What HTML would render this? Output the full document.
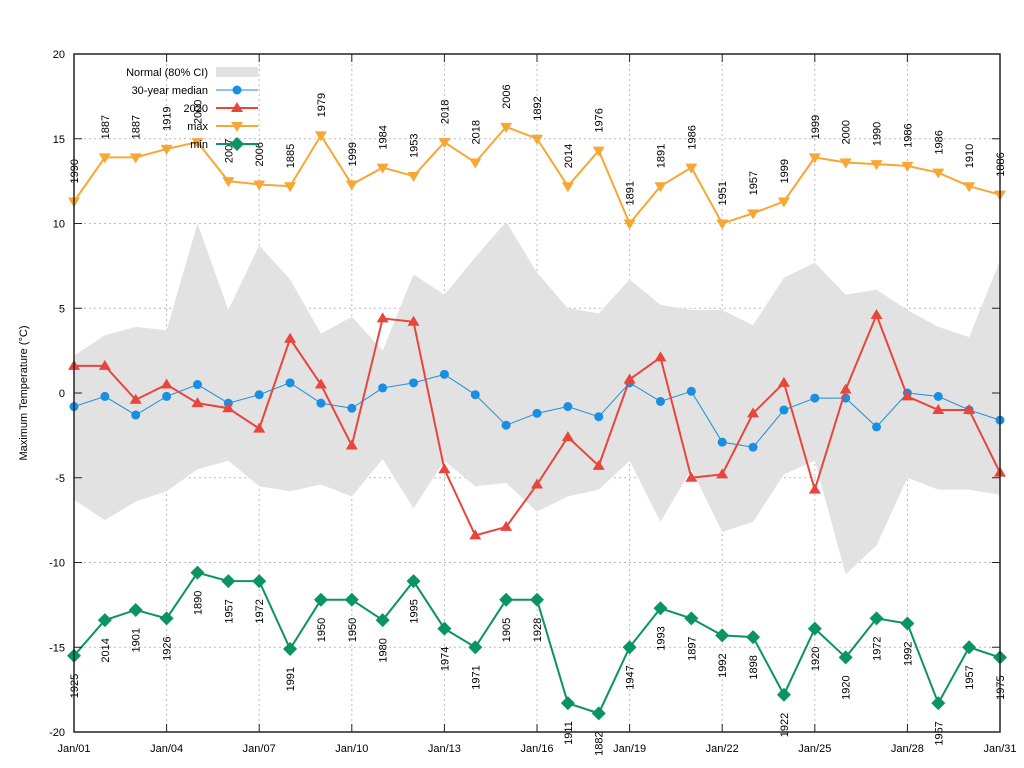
<!DOCTYPE html>
<html><head><meta charset="utf-8"><style>
html,body{margin:0;padding:0;background:#fff;}
svg{display:block;font-family:"Liberation Sans",sans-serif;}
</style></head><body>
<svg id="chart" width="1024" height="768" xmlns="http://www.w3.org/2000/svg">
<rect width="1024" height="768" fill="#fff"/>
<g id="grid"></g>
<g id="band"></g>
<g id="series"></g>
<g id="axes"></g>
<g id="legend"></g>
<text transform="translate(27,393) rotate(-90)" text-anchor="middle" font-size="11">Maximum Temperature (°C)</text>
</svg>
<script>
const days = Array.from({length:31},(_,i)=>i+1);
const maxVals = [11.3,13.9,13.9,14.4,14.8,12.5,12.3,12.2,15.2,12.3,13.3,12.8,14.8,13.6,15.7,15.0,12.2,14.3,10.0,12.2,13.3,10.0,10.6,11.3,13.9,13.6,13.5,13.4,13.0,12.2,11.7];
const maxYears = ["1990","1887","1887","1919","2000","2007","2006","1885","1979","1999","1984","1953","2018","2018","2006","1892","2014","1976","1891","1891","1986","1951","1957","1999","1999","2000","1990","1986","1986","1910","1886"];
const minVals = [-15.5,-13.4,-12.8,-13.3,-10.6,-11.1,-11.1,-15.1,-12.2,-12.2,-13.4,-11.1,-13.9,-15.0,-12.2,-12.2,-18.3,-18.9,-15.0,-12.7,-13.3,-14.3,-14.4,-17.8,-13.9,-15.6,-13.3,-13.6,-18.3,-15.0,-15.6];
const minYears = ["1925","2014","1901","1926","1890","1957","1972","1991","1950","1950","1980","1995","1974","1971","1905","1928","1911","1882","1947","1993","1897","1992","1898","1922","1920","1920","1972","1992","1957","1957","1975"];
const y2020 = [1.6,1.6,-0.4,0.5,-0.6,-0.9,-2.1,3.2,0.5,-3.1,4.4,4.2,-4.5,-8.4,-7.9,-5.4,-2.6,-4.3,0.8,2.1,-5.0,-4.8,-1.2,0.6,-5.7,0.2,4.6,-0.2,-1.0,-1.0,-4.7];
const medianVals = [-0.8,-0.2,-1.3,-0.2,0.5,-0.6,-0.1,0.6,-0.6,-0.9,0.3,0.6,1.1,-0.1,-1.9,-1.2,-0.8,-1.4,0.6,-0.5,0.1,-2.9,-3.2,-1.0,-0.3,-0.3,-2.0,0.0,-0.2,-1.0,-1.6];
const bandUpper = [2.2,3.4,3.9,3.7,10.0,4.9,8.7,6.7,3.5,4.5,2.5,7.0,5.8,8.0,10.1,7.1,5.0,4.7,6.7,5.2,4.9,4.9,4.0,6.8,7.7,5.8,6.1,4.9,3.9,3.3,7.8];
const bandLower = [-6.3,-7.5,-6.4,-5.8,-4.5,-4.0,-5.5,-5.8,-5.4,-6.1,-3.9,-6.8,-4.0,-5.5,-5.3,-7.0,-6.1,-5.7,-4.0,-7.6,-4.5,-8.2,-7.6,-4.8,-4.0,-10.7,-9.0,-5.0,-5.7,-5.7,-6.0];
const yTicks = [-20,-15,-10,-5,0,5,10,15,20];
const xTickDays = [1,4,7,10,13,16,19,22,25,28,31];

const NS="http://www.w3.org/2000/svg";
const L=74,R=1000,T=54,B=732;
const xS=d=>L+(d-1)*(R-L)/30;
const yS=v=>B-(v+20)*(B-T)/40;
function mk(tag,attrs,parent){const e=document.createElementNS(NS,tag);for(const k in attrs)e.setAttribute(k,attrs[k]);parent.appendChild(e);return e;}
const grid=document.getElementById('grid'),band=document.getElementById('band'),series=document.getElementById('series'),axes=document.getElementById('axes'),legend=document.getElementById('legend');

yTicks.forEach(v=>{
  if(v>-20&&v<20){const g=mk('line',{x1:L,x2:R,y1:yS(v),y2:yS(v),stroke:'#bbb','stroke-dasharray':'2,3','stroke-width':1},grid);
  
  }
  const t=mk('text',{x:L-9,y:yS(v)+4,'text-anchor':'end','font-size':11},axes);t.textContent=v;
  
  
  mk('line',{x1:L,x2:L+8,y1:yS(v),y2:yS(v),stroke:'#222'},axes);
  mk('line',{x1:R,x2:R-8,y1:yS(v),y2:yS(v),stroke:'#222'},axes);
});
xTickDays.forEach(d=>{
  if(d>1&&d<31){const g=mk('line',{x1:xS(d),x2:xS(d),y1:T,y2:B,stroke:'#bbb','stroke-dasharray':'2,3'},grid);
  
  }
  const t=mk('text',{x:xS(d),y:B+20,'text-anchor':'middle','font-size':11},axes);t.textContent='Jan/'+String(d).padStart(2,'0');
  
  
  mk('line',{x1:xS(d),x2:xS(d),y1:B,y2:B-8,stroke:'#222'},axes);
  mk('line',{x1:xS(d),x2:xS(d),y1:T,y2:T+8,stroke:'#222'},axes);
});
const fr=mk('rect',{x:L,y:T,width:R-L,height:B-T,fill:'none',stroke:'#222','stroke-width':1.5},axes);



// band
let pts=days.map((d,i)=>xS(d)+','+yS(bandUpper[i])).concat(days.slice().reverse().map(d=>xS(d)+','+yS(bandLower[d-1])));
const bp=mk('polygon',{points:pts.join(' '),fill:'#e2e2e2'},band);



function marker(kind,x,y,c,p){
  if(kind==='circle')return mk('circle',{cx:x,cy:y,r:4.5,fill:c},p);
  if(kind==='up')return mk('polygon',{points:`${x},${y-6} ${x-6},${y+4} ${x+6},${y+4}`,fill:c},p);
  if(kind==='down')return mk('polygon',{points:`${x},${y+6} ${x-6},${y-4} ${x+6},${y-4}`,fill:c},p);
  return mk('polygon',{points:`${x},${y-7} ${x+7},${y} ${x},${y+7} ${x-7},${y}`,fill:c},p);
}
function line(vals,c,w,kind,name){
  const g=mk('g',{},series);
  
  
  const pl=mk('polyline',{points:days.map((d,i)=>xS(d)+','+yS(vals[i])).join(' '),fill:'none',stroke:c,'stroke-width':w},g);
  
  
  days.forEach((d,i)=>{const m=marker(kind,xS(d),yS(vals[i]),c,g);
    
    });
}
line(medianVals,'#1a8ee0',1,'circle','median');
line(y2020,'#e8453c',2,'up','y2020');
line(maxVals,'#f8a634',2,'down','max');
line(minVals,'#0a9460',2,'diamond','min');

days.forEach((d,i)=>{
  const x=xS(d)+4;
  let y=yS(maxVals[i])-18;
  const t=mk('text',{transform:`translate(${x},${y}) rotate(-90)`,'font-size':11},series);t.textContent=maxYears[i];
  
  
  y=yS(minVals[i])+18;
  const t2=mk('text',{transform:`translate(${x},${y}) rotate(-90)`,'font-size':11,'text-anchor':'end'},series);t2.textContent=minYears[i];
  
  
});

// legend
const legItems=[['Normal (80% CI)','band'],['30-year median','#1a8ee0','circle',1],['2020','#e8453c','up',2],['max','#f8a634','down',2],['min','#0a9460','diamond',2]];
legItems.forEach((it,i)=>{
  const y=72+i*18;
  const g=mk('g',{},legend);
  
  
  const t=mk('text',{x:208,y:y+4,'text-anchor':'end','font-size':11},g);t.textContent=it[0];
  if(it[1]==='band')mk('rect',{x:216,y:y-5,width:42,height:10,fill:'#e2e2e2'},g);
  else{mk('line',{x1:216,x2:258,y1:y,y2:y,stroke:it[1],'stroke-width':it[3]},g);marker(it[2],237,y,it[1],g);}
});
</script>
</body></html>
